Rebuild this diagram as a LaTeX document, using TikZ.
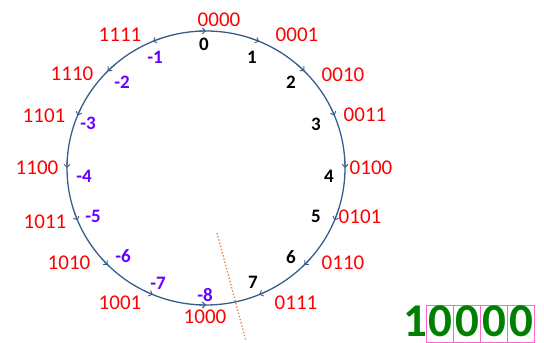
\documentclass[tikz,border=0pt]{standalone}
\usepackage{fontspec}
\setmainfont{Carlito}
\usetikzlibrary{arrows.meta,calc}
\definecolor{circblue}{RGB}{56,93,138}
\definecolor{binred}{RGB}{255,0,0}
\definecolor{negviolet}{RGB}{102,0,255}
\definecolor{dotorange}{RGB}{237,125,49}
\definecolor{bigreen}{RGB}{0,128,0}
\definecolor{boxpink}{RGB}{255,102,204}
\tikzset{
  binlab/.style={text=binred, font=\fontsize{21}{21}\selectfont, inner sep=0pt, anchor=center},
  poslab/.style={text=black, font=\bfseries\fontsize{19}{19}\selectfont, inner sep=0pt, anchor=center},
  neglab/.style={text=negviolet, font=\bfseries\fontsize{19}{19}\selectfont, inner sep=0pt, anchor=center},
  ring/.style={draw=circblue, line width=1.3pt},
  tick/.style={draw=circblue, line width=0.9pt, -{Straight Barb[length=3pt,width=6pt]}},
  digbox/.style={draw=boxpink, line width=0.8pt, minimum width=27pt, minimum height=37pt, inner sep=0pt},
  bigdig/.style={text=bigreen, font=\bfseries\fontsize{47}{47}\selectfont, inner sep=0pt, anchor=base}
}
\begin{document}
\begin{tikzpicture}[x=1pt,y=1pt]
\useasboundingbox (0,0) rectangle (544,343);
\coordinate (c) at (206,175);
\draw[ring] (c) ellipse [x radius=139, y radius=137];
% arrow ticks on the ring
\foreach \a in {67.5,45,22.5,0,-22.5,-45,-67.5,90} {
  \draw[tick] ($(c)+(\a+4:139 and 137)$) arc [start angle=\a+4, end angle=\a, x radius=139, y radius=137];
}
\foreach \a in {112.5,135,157.5,180,202.5,225,247.5,270} {
  \draw[tick] ($(c)+(\a-4:139 and 137)$) arc [start angle=\a-4, end angle=\a, x radius=139, y radius=137];
}
% binary labels
\node[binlab] (b0) at (219,323) {0000};
\node[binlab] (b1) at (297,308) {0001};
\node[binlab] (b2) at (343,268) {0010};
\node[binlab] (b3) at (365,228) {0011};
\node[binlab] (b4) at (371,175) {0100};
\node[binlab] (b5) at (360,126) {0101};
\node[binlab] (b6) at (343,80) {0110};
\node[binlab] (b7) at (296,40) {0111};
\node[binlab] (b8) at (205,26) {1000};
\node[binlab] (b9) at (120,40) {1001};
\node[binlab] (b10) at (69,80) {1010};
\node[binlab] (b11) at (45,121) {1011};
\node[binlab] (b12) at (37,175) {1100};
\node[binlab] (b13) at (44,227) {1101};
\node[binlab] (b14) at (72,269) {1110};
\node[binlab] (b15) at (120,308) {1111};
% decimal labels
\node[poslab] (d0) at (204,299) {0};
\node[poslab] (d1) at (252,286) {1};
\node[poslab] (d2) at (291,261) {2};
\node[poslab] (d3) at (316,219) {3};
\node[poslab] (d4) at (329,167) {4};
\node[poslab] (d5) at (316,127) {5};
\node[poslab] (d6) at (291,86) {6};
\node[poslab] (d7) at (253,61) {7};
\node[neglab] (m8) at (205,48) {-8};
\node[neglab] (m7) at (158,60) {-7};
\node[neglab] (m6) at (123,87) {-6};
\node[neglab] (m5) at (93,127) {-5};
\node[neglab] (m4) at (84,167) {-4};
\node[neglab] (m3) at (88,220) {-3};
\node[neglab] (m2) at (122,261) {-2};
\node[neglab] (m1) at (155,286) {-1};
% orange dotted cut line
\coordinate (o1) at (217,110);
\coordinate (o2) at (246,2);
\draw[dotorange, dotted, line width=1.3pt] (o1) -- (o2);
% 10000 with digit boxes
\node[digbox] (k1) at (440,19.5) {};
\node[digbox] (k2) at (467,19.5) {};
\node[digbox] (k3) at (494,19.5) {};
\node[digbox] (k4) at (521,19.5) {};
\node[bigdig] (g0) at (415,6) {1};
\node[bigdig] (g1) at (440,6) {0};
\node[bigdig] (g2) at (467,6) {0};
\node[bigdig] (g3) at (494,6) {0};
\node[bigdig] (g4) at (521,6) {0};
\end{tikzpicture}
\end{document}
